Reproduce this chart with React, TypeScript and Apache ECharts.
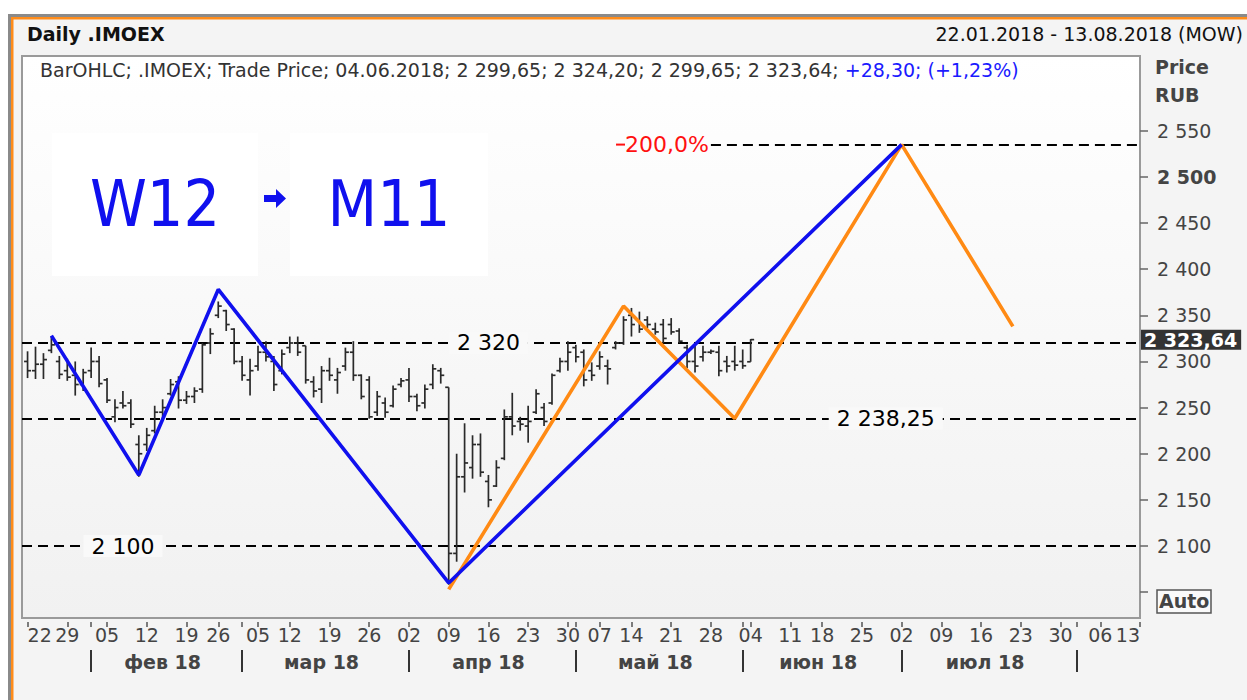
import React, { useEffect, useRef } from 'react';
import * as echarts from 'echarts';

// ---------- data ----------
const FIRST_DAY = '2018-01-22';
const LAST_DAY = '2018-08-13';
const HOLIDAYS = ['2018-02-23', '2018-03-08', '2018-05-01', '2018-05-09', '2018-06-12'];
const MONTHS_RU = ['янв', 'фев', 'мар', 'апр', 'май', 'июн', 'июл', 'авг', 'сен', 'окт', 'ноя', 'дек'];

// daily bars from 22.01.2018 to 04.06.2018: [open, high, low, close]
const OHLC: number[][] = [
  [2300, 2311, 2282, 2290], [2290, 2316, 2281, 2297], [2297, 2309, 2281, 2302], [2312, 2327, 2309, 2318],
  [2300, 2306, 2281, 2286], [2290, 2303, 2279, 2283], [2285, 2300, 2263, 2275], [2275, 2292, 2268, 2288],
  [2290, 2315, 2282, 2300], [2300, 2306, 2272, 2276], [2280, 2282, 2255, 2258], [2240, 2259, 2234, 2250],
  [2255, 2268, 2249, 2252], [2255, 2259, 2228, 2232], [2210, 2220, 2175, 2200], [2210, 2228, 2203, 2220],
  [2225, 2252, 2222, 2245], [2245, 2259, 2238, 2250], [2265, 2281, 2263, 2275], [2278, 2284, 2249, 2258],
  [2258, 2268, 2254, 2262], [2262, 2272, 2255, 2268], [2270, 2320, 2266, 2318], [2320, 2336, 2308, 2330],
  [2350, 2365, 2347, 2360], [2355, 2356, 2333, 2340], [2335, 2336, 2297, 2300], [2300, 2306, 2279, 2285],
  [2280, 2303, 2263, 2290], [2295, 2317, 2290, 2310], [2310, 2322, 2300, 2305], [2300, 2306, 2268, 2275],
  [2290, 2313, 2286, 2308], [2315, 2327, 2309, 2320], [2320, 2327, 2306, 2310], [2317, 2317, 2276, 2280],
  [2278, 2284, 2261, 2268], [2270, 2295, 2255, 2290], [2290, 2304, 2279, 2285], [2280, 2293, 2265, 2288],
  [2295, 2315, 2290, 2310], [2310, 2322, 2279, 2285], [2285, 2286, 2259, 2262], [2280, 2284, 2238, 2240],
  [2245, 2268, 2241, 2262], [2255, 2261, 2239, 2245], [2252, 2274, 2250, 2270], [2275, 2282, 2272, 2279],
  [2280, 2293, 2256, 2262], [2262, 2265, 2246, 2252], [2255, 2275, 2249, 2270], [2275, 2297, 2270, 2292],
  [2290, 2293, 2276, 2285], [2272, 2272, 2058, 2092], [2092, 2200, 2083, 2175], [2175, 2233, 2158, 2190],
  [2185, 2220, 2173, 2210], [2210, 2222, 2175, 2180], [2170, 2177, 2142, 2150], [2165, 2193, 2164, 2185],
  [2195, 2248, 2193, 2240], [2240, 2266, 2220, 2230], [2235, 2240, 2225, 2232], [2230, 2252, 2212, 2235],
  [2245, 2270, 2243, 2265], [2250, 2255, 2230, 2235], [2255, 2287, 2253, 2285], [2290, 2304, 2288, 2300],
  [2300, 2322, 2290, 2310], [2315, 2318, 2299, 2305], [2310, 2313, 2273, 2280], [2290, 2299, 2279, 2285],
  [2295, 2311, 2291, 2305], [2295, 2302, 2275, 2292], [2315, 2322, 2313, 2320], [2320, 2349, 2318, 2345],
  [2350, 2358, 2327, 2340], [2345, 2354, 2331, 2335], [2345, 2349, 2336, 2340], [2335, 2342, 2329, 2332],
  [2340, 2346, 2320, 2325], [2340, 2347, 2329, 2332], [2333, 2336, 2320, 2322], [2315, 2318, 2293, 2300],
  [2300, 2320, 2288, 2295], [2305, 2317, 2300, 2310], [2310, 2313, 2308, 2311], [2310, 2317, 2284, 2290],
  [2300, 2306, 2288, 2295], [2300, 2317, 2290, 2296], [2300, 2313, 2292, 2295.34], [2299.65, 2324.2, 2299.65, 2323.64],
];

const W12_DATES = ['2018-01-25', '2018-02-09', '2018-02-26', '2018-04-09', '2018-07-02'];
const W12_PRICES = [2328, 2177, 2378, 2060, 2535];
const M11_DATES = ['2018-04-09', '2018-05-11', '2018-05-31', '2018-07-02', '2018-07-20'];
const M11_PRICES = [2053, 2360, 2238.25, 2535, 2338];

const LEVELS = [2320, 2238.25, 2100];
const LEVEL_TEXTS = ['2 320', '2 238,25', '2 100'];
const LEVEL_TEXT_DATES = ['2018-04-16', '2018-06-28', '2018-02-07'];
const PROJ_LEVEL = 2535;
const PROJ_TEXT = '200,0%';
const PROJ_START = '2018-05-28';
const LAST_CLOSE = 2323.64;

const Y_TICKS = [2050, 2100, 2150, 2200, 2250, 2300, 2350, 2400, 2450, 2500, 2550];
const Y_LABELS = [2100, 2150, 2200, 2250, 2300, 2350, 2400, 2450, 2500, 2550];
const Y_BOLD = 2500;

const LEGEND_MAIN = 'BarOHLC; .IMOEX; Trade Price; 04.06.2018; 2 299,65; 2 324,20; 2 299,65; 2 323,64; ';
const LEGEND_CHANGE = '+28,30; (+1,23%)';

// ---------- helpers ----------
const iso = (d: Date) =>
  `${d.getFullYear()}-${String(d.getMonth() + 1).padStart(2, '0')}-${String(d.getDate()).padStart(2, '0')}`;

function buildDays(): Date[] {
  const out: Date[] = [];
  const [y0, m0, d0] = FIRST_DAY.split('-').map(Number);
  const [y1, m1, d1] = LAST_DAY.split('-').map(Number);
  const d = new Date(y0, m0 - 1, d0);
  const end = new Date(y1, m1 - 1, d1);
  while (d <= end) {
    const wd = d.getDay();
    if (wd !== 0 && wd !== 6 && !HOLIDAYS.includes(iso(d))) out.push(new Date(d));
    d.setDate(d.getDate() + 1);
  }
  return out;
}

const fmtNum = (v: number) => String(v).replace(/\B(?=(\d{3})+(?!\d))/g, ' ');

const FONT = "'DejaVu Sans', sans-serif";
const FONT_BIG = "'DejaVu Sans Condensed', 'DejaVu Sans', sans-serif";
const FS = 19;
const BLUE = '#1010ee';
const ORANGE = '#ff8a14';

export default function App() {
  const ref = useRef<HTMLDivElement>(null);

  useEffect(() => {
    if (!ref.current) return;
    const chart = echarts.init(ref.current, undefined, { renderer: 'svg' });
    const days = buildDays();
    const isoDays = days.map(iso);
    const idx = (s: string) => isoDays.indexOf(s);
    const xMin = -0.7;
    const xMax = days.length - 1;

    const weekStarts: number[] = [];
    const monthStarts: number[] = [];
    days.forEach((d, i) => {
      if (i === 0 || d.getDay() < days[i - 1].getDay() || d.getTime() - days[i - 1].getTime() > 3 * 86400000) weekStarts.push(i);
      if (i > 0 && d.getMonth() !== days[i - 1].getMonth()) monthStarts.push(i);
    });
    const tickVals = Array.from(new Set([...weekStarts, ...monthStarts])).sort((a, b) => a - b);
    const monthMids: number[] = [];
    for (let k = 0; k < monthStarts.length - 1; k++) monthMids.push((monthStarts[k] + monthStarts[k + 1]) / 2 - 0.5);

    const barData = OHLC.map((b, i) => [i, b[0], b[1], b[2], b[3]]);
    const w12 = W12_DATES.map((s, i) => [idx(s), W12_PRICES[i]]);
    const m11 = M11_DATES.map((s, i) => [idx(s), M11_PRICES[i]]);

    const dash = { type: [10, 6] as any, color: '#000', width: 1.8 };
    const closeText = fmtNum(Math.floor(LAST_CLOSE)) + ',' + LAST_CLOSE.toFixed(2).split('.')[1];

    chart.setOption({
      animation: false,
      backgroundColor: '#f4f4f4',
      textStyle: { fontFamily: FONT },
      grid: {
        left: 22, top: 56, width: 1118, height: 562, show: true,
        borderColor: '#9a9a9a', borderWidth: 2,
        backgroundColor: new echarts.graphic.LinearGradient(0, 0, 0, 1, [
          { offset: 0, color: '#ffffff' }, { offset: 1, color: '#f1f1f1' },
        ]),
      },
      xAxis: [
        {
          type: 'value', min: xMin, max: xMax, position: 'bottom', offset: 4,
          axisLine: { show: false, onZero: false }, splitLine: { show: false },
          axisTick: { show: true, customValues: tickVals, length: 5, lineStyle: { color: '#555', width: 1.5 } },
          axisLabel: {
            show: true, customValues: weekStarts, margin: 3, color: '#444', fontSize: FS, fontFamily: FONT,
            alignMinLabel: 'left', alignMaxLabel: 'right',
            formatter: (v: number) => String(days[Math.round(v)].getDate()).padStart(2, '0'),
          },
        },
        {
          type: 'value', min: xMin, max: xMax, position: 'bottom', offset: 32,
          axisLine: { show: false, onZero: false }, splitLine: { show: false },
          axisTick: { show: true, customValues: monthStarts, length: 22, lineStyle: { color: '#333', width: 2 } },
          axisLabel: {
            show: true, customValues: monthMids, margin: 2, color: '#444', fontSize: FS, fontWeight: 'bold', fontFamily: FONT,
            formatter: (v: number) => {
              const d = days[Math.round(v)];
              return `${MONTHS_RU[d.getMonth()]} ${String(d.getFullYear()).slice(2)}`;
            },
          },
        },
      ],
      yAxis: {
        type: 'value', position: 'right', min: 2022, max: 2631,
        axisLine: { show: false, onZero: false }, splitLine: { show: false },
        axisTick: { show: true, customValues: Y_TICKS, length: 8, lineStyle: { color: '#666', width: 1.5 } },
        axisLabel: {
          show: true, customValues: Y_LABELS, margin: 17, color: '#444', fontSize: FS, fontFamily: FONT,
          formatter: (v: number) => (v === Y_BOLD ? `{b|${fmtNum(v)}}` : fmtNum(v)),
          rich: { b: { fontWeight: 'bold', fontSize: FS, color: '#444', fontFamily: FONT } },
        },
      },
      series: [
        {
          type: 'custom', name: 'bars', xAxisIndex: 0, yAxisIndex: 0, z: 3,
          data: barData, encode: { x: 0, y: [1, 2, 3, 4] },
          renderItem: (params: any, api: any) => {
            const x = api.value(0);
            const pH = api.coord([x, api.value(2)]);
            const pL = api.coord([x, api.value(3)]);
            const pO = api.coord([x, api.value(1)]);
            const pC = api.coord([x, api.value(4)]);
            const st = { stroke: '#2a2a2a', lineWidth: 1.7 };
            return {
              type: 'group',
              children: [
                { type: 'line', shape: { x1: pH[0], y1: pH[1], x2: pL[0], y2: pL[1] }, style: st },
                { type: 'line', shape: { x1: pO[0] - 3.5, y1: pO[1], x2: pO[0], y2: pO[1] }, style: st },
                { type: 'line', shape: { x1: pC[0], y1: pC[1], x2: pC[0] + 3.5, y2: pC[1] }, style: st },
              ],
            };
          },
        },
        {
          type: 'line', name: 'M11', data: m11, symbol: 'none', z: 5,
          lineStyle: { color: ORANGE, width: 3.6 }, itemStyle: { color: ORANGE },
        },
        {
          type: 'line', name: 'W12', data: w12, symbol: 'none', z: 6,
          lineStyle: { color: BLUE, width: 3.6 }, itemStyle: { color: BLUE },
          markLine: {
            silent: true, symbol: ['none', 'none'], z: 2,
            lineStyle: dash, label: { show: false },
            data: [
              ...LEVELS.map((l) => ({ yAxis: l })),
              [
                {
                  coord: [idx(PROJ_START), PROJ_LEVEL],
                  label: {
                    show: true, position: 'start', distance: 2,
                    formatter: `{d|}{t|${PROJ_TEXT}}`,
                    rich: {
                      d: { width: 9, height: 2, backgroundColor: '#ff1010', verticalAlign: 'middle' },
                      t: { color: '#ff1010', fontSize: 22, fontFamily: FONT, verticalAlign: 'middle' },
                    },
                  },
                },
                { coord: [xMax, PROJ_LEVEL] },
              ],
              {
                yAxis: LAST_CLOSE, lineStyle: { color: 'rgba(0,0,0,0)', width: 0 },
                label: {
                  show: true, position: 'end', distance: 1, formatter: closeText,
                  color: '#ffffff', backgroundColor: '#333333', fontWeight: 'bold', fontSize: FS, fontFamily: FONT,
                  padding: [1, 4, 0, 3], opacity: 1,
                },
              },
            ],
          },
        },
        {
          type: 'scatter', name: 'levelLabels', symbolSize: 0.1, z: 4, silent: true,
          itemStyle: { color: 'rgba(0,0,0,0)' },
          data: LEVELS.map((l, i) => ({ value: [idx(LEVEL_TEXT_DATES[i]), l], name: LEVEL_TEXTS[i] })),
          label: {
            show: true, position: 'inside', formatter: '{b}', color: '#000', fontSize: 22, fontFamily: FONT,
            backgroundColor: '#f9f9f9', padding: [0, 8], opacity: 1,
          },
        },
      ],
      graphic: [
        { type: 'rect', silent: true, shape: { x: 0, y: 0, width: 1247, height: 15 }, style: { fill: '#ffffff' } },
        { type: 'rect', silent: true, shape: { x: 0, y: 0, width: 8, height: 700 }, style: { fill: '#ffffff' } },
        { type: 'rect', silent: true, shape: { x: 8, y: 14, width: 1239, height: 3 }, style: { fill: '#8a8a8a' } },
        { type: 'rect', silent: true, shape: { x: 8, y: 14, width: 3, height: 686 }, style: { fill: '#8a8a8a' } },
        { type: 'rect', silent: true, shape: { x: 11, y: 17, width: 1236, height: 2.5 }, style: { fill: '#ff8c1a' } },
        { type: 'rect', silent: true, shape: { x: 11, y: 17, width: 2.5, height: 683 }, style: { fill: '#ff8c1a' } },
        { type: 'text', left: 27, top: 24, silent: true, style: { text: 'Daily .IMOEX', font: `bold ${FS}px ${FONT}`, fill: '#111' } },
        { type: 'text', right: 4, top: 24, silent: true, style: { text: '22.01.2018 - 13.08.2018 (MOW)', font: `${FS}px ${FONT}`, fill: '#111' } },
        {
          type: 'text', left: 40, top: 60, silent: true, z: 10,
          style: {
            text: `{a|${LEGEND_MAIN}}{b|${LEGEND_CHANGE}}`, font: `${FS}px ${FONT}`,
            rich: { a: { fill: '#333', font: `${FS}px ${FONT}` }, b: { fill: '#1a1aff', font: `${FS}px ${FONT}` } },
          },
        },
        { type: 'text', left: 1155, top: 57, silent: true, style: { text: 'Price', font: `bold ${FS}px ${FONT}`, fill: '#444' } },
        { type: 'text', left: 1155, top: 85, silent: true, style: { text: 'RUB', font: `bold ${FS}px ${FONT}`, fill: '#444' } },
        { type: 'rect', silent: true, shape: { x: 1157, y: 590, width: 54, height: 23 }, style: { fill: '#fafafa', stroke: '#555', lineWidth: 1.5 } },
        { type: 'text', left: 1159, top: 591, silent: true, style: { text: 'Auto', font: `bold ${FS}px ${FONT}`, fill: '#444' } },
        { type: 'rect', silent: true, z: 10, shape: { x: 52, y: 133, width: 206, height: 143 }, style: { fill: '#ffffff' } },
        { type: 'rect', silent: true, z: 10, shape: { x: 290, y: 133, width: 198, height: 143 }, style: { fill: '#ffffff' } },
        {
          type: 'text', silent: true, z: 11, x: 155, y: 204,
          style: { text: 'W12', font: `64px ${FONT_BIG}`, fill: BLUE, align: 'center', verticalAlign: 'middle' },
        },
        {
          type: 'text', silent: true, z: 11, x: 389, y: 204,
          style: { text: 'M11', font: `64px ${FONT_BIG}`, fill: BLUE, align: 'center', verticalAlign: 'middle' },
        },
        {
          type: 'polygon', silent: true, z: 11,
          shape: { points: [[264, 195], [276, 195], [276, 189], [286, 198.5], [276, 208], [276, 202], [264, 202]] },
          style: { fill: BLUE },
        },
      ],
    });
    return () => chart.dispose();
  }, []);

  return <div ref={ref} style={{ position: 'absolute', left: 0, top: 0, width: 1247, height: 700 }} />;
}
